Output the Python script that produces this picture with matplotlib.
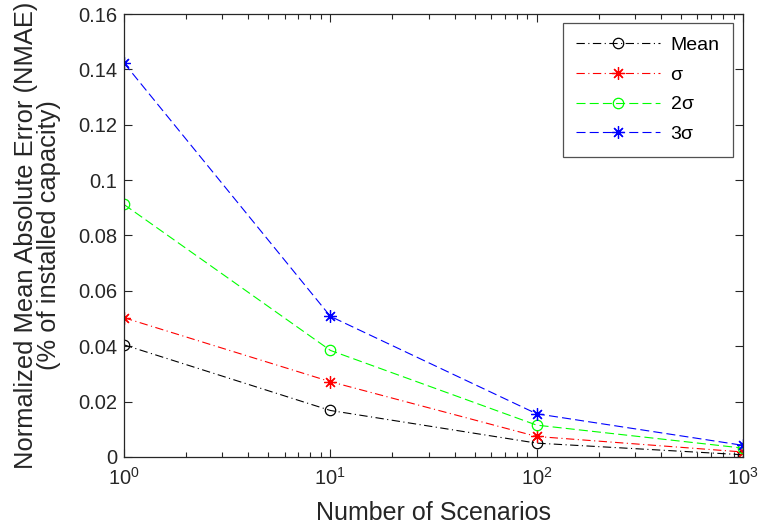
import matplotlib
matplotlib.use("Agg")
import matplotlib.pyplot as plt
from matplotlib.ticker import FixedLocator, LogLocator, NullFormatter

plt.rcParams['font.family'] = ['Liberation Sans', 'DejaVu Sans']
plt.rcParams['mathtext.fontset'] = 'custom'
plt.rcParams['mathtext.rm'] = 'Liberation Sans'
plt.rcParams['mathtext.it'] = 'Liberation Sans'
plt.rcParams['lines.scale_dashes'] = False

scenarios = [1, 10, 100, 1000]
mean_vals = [0.0405, 0.0168, 0.0050, 0.0008]
sigma_vals = [0.0503, 0.0272, 0.0074, 0.0018]
sigma2_vals = [0.0912, 0.0385, 0.0115, 0.0032]
sigma3_vals = [0.1423, 0.0508, 0.0156, 0.0042]
labels = ['Mean', 'σ', '2σ', '3σ']
yticks = [0, 0.02, 0.04, 0.06, 0.08, 0.1, 0.12, 0.14, 0.16]
ytick_labels = ['0', '0.02', '0.04', '0.06', '0.08', '0.1', '0.12', '0.14', '0.16']
xticks = [1, 10, 100, 1000]
xtick_labels = [r'$10^{0}$', r'$10^{1}$', r'$10^{2}$', r'$10^{3}$']

fig = plt.figure(figsize=(7.59, 5.31), dpi=100)
ax = fig.add_axes([0.1634, 0.1394, 0.979 - 0.1634, 0.9736 - 0.1394])

lw = 0.8
dashdot = (0, (6.0, 2.5, 0.8, 2.5))
dashed = (0, (6.5, 3.0))
star = (8, 2, 0)
ax.plot(scenarios, mean_vals, color='black', linestyle=dashdot, marker='o', markersize=7.5,
        markerfacecolor='none', markeredgewidth=0.9, linewidth=lw, label=labels[0])
ax.plot(scenarios, sigma_vals, color='red', linestyle=dashdot, marker=star, markersize=9,
        markeredgewidth=0.9, linewidth=lw, label=labels[1])
ax.plot(scenarios, sigma2_vals, color=(0, 1, 0), linestyle=dashed, marker='o', markersize=7.5,
        markerfacecolor='none', markeredgewidth=0.9, linewidth=lw, label=labels[2])
ax.plot(scenarios, sigma3_vals, color='blue', linestyle=dashed, marker=star, markersize=9,
        markeredgewidth=0.9, linewidth=lw, label=labels[3])

ax.set_xscale('log')
ax.set_xlim(1, 1000)
ax.set_ylim(0, 0.16)
ax.set_yticks(yticks)
ax.set_yticklabels(ytick_labels)
ax.xaxis.set_major_locator(FixedLocator(xticks))
ax.set_xticklabels(xtick_labels)
ax.xaxis.set_minor_locator(LogLocator(base=10, subs=range(2, 10)))
ax.xaxis.set_minor_formatter(NullFormatter())

ax.tick_params(which='both', direction='in', top=True, right=True, labelsize=14.5,
               colors='#262626', width=0.8)
ax.tick_params(which='major', length=6)
ax.tick_params(which='minor', length=3.5)
ax.tick_params(axis='x', pad=7)
ax.tick_params(axis='y', pad=5)
for s in ax.spines.values():
    s.set_linewidth(0.9)
    s.set_color('#262626')

ax.set_xlabel('Number of Scenarios', fontsize=18, color='#262626', labelpad=9)
ax.set_ylabel('Normalized Mean Absolute Error (NMAE)\n(% of installed capacity)',
              fontsize=18.4, color='#262626', labelpad=12, linespacing=0.95)

leg = ax.legend(loc='upper right', fontsize=14, frameon=True, fancybox=False,
                edgecolor='#262626', borderpad=0.7, labelspacing=0.62,
                handlelength=4.3, handletextpad=0.55, borderaxespad=0,
                bbox_to_anchor=(0.984, 0.98))
leg.get_frame().set_linewidth(0.9)

fig.savefig('out.png', dpi=100, facecolor='white')
